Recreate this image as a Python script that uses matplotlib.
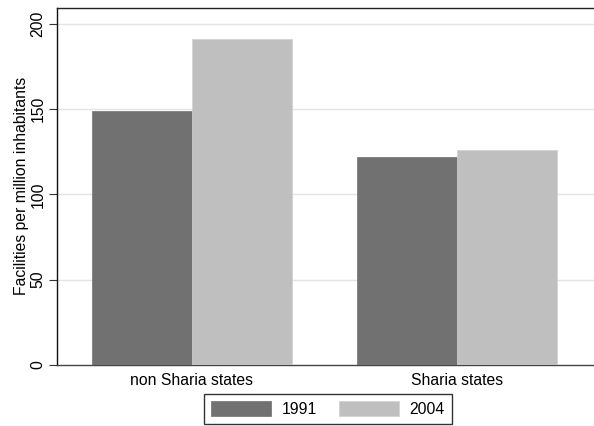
import matplotlib
matplotlib.use("Agg")
import matplotlib.pyplot as plt
import numpy as np

categories = ["non Sharia states", "Sharia states"]
series_names = ["1991", "2004"]
values_1991 = [149.1, 121.9]
values_2004 = [191.2, 125.9]
yticks = [0, 50, 100, 150, 200]

plt.rcParams['font.family'] = ['Liberation Sans', 'DejaVu Sans']
fs = 11.3

fig = plt.figure(figsize=(5.94, 4.26), dpi=100)
ax = fig.add_axes([57.3/594, 1-364.7/426, 1-57.3/594, (364.7-8)/426])

x = np.arange(len(categories))
w = 0.377
c1 = "#717171"
c2 = "#bfbfbf"
b1 = ax.bar(x - w/2, values_1991, w, color=c1, edgecolor=c1, linewidth=0.5, label=series_names[0], zorder=3)
b2 = ax.bar(x + w/2, values_2004, w, color=c2, edgecolor="#d0d0d0", linewidth=0.5, label=series_names[1], zorder=3)

ax.set_xlim(-0.508, 1.517)
ax.set_ylim(0, 209.4)
ax.set_yticks(yticks)
ax.set_yticklabels([str(t) for t in yticks], rotation=90, va='center', fontsize=fs)
ax.set_xticks(x)
ax.set_xticklabels(categories, fontsize=fs)
ax.tick_params(axis='x', length=0, pad=6)
ax.tick_params(axis='y', length=6, width=0.8, direction='out', pad=2.5, color="#333333")
for t in yticks[1:]:
    ax.axhline(t, color="#e4e4e4", linewidth=1.0, zorder=1)

ax.spines['right'].set_visible(False)
ax.spines['top'].set_color("#222222")
ax.spines['left'].set_color("#111111")
ax.spines['bottom'].set_color("#444444")
for s in ['top', 'left', 'bottom']:
    ax.spines[s].set_linewidth(1.0)

ax.set_ylabel("Facilities per million inhabitants", fontsize=fs, labelpad=1)

leg = fig.legend(handles=[b1, b2], labels=series_names, loc='center',
                 bbox_to_anchor=(328/594, 1-409.2/426), ncol=2, fontsize=fs,
                 frameon=True, fancybox=False, handlelength=3.8, handleheight=1.05,
                 handletextpad=0.7, columnspacing=1.4, borderpad=0.45,
                 borderaxespad=0)
leg.get_frame().set_edgecolor("black")
leg.get_frame().set_linewidth(1.0)

fig.savefig("out.png", dpi=100)
